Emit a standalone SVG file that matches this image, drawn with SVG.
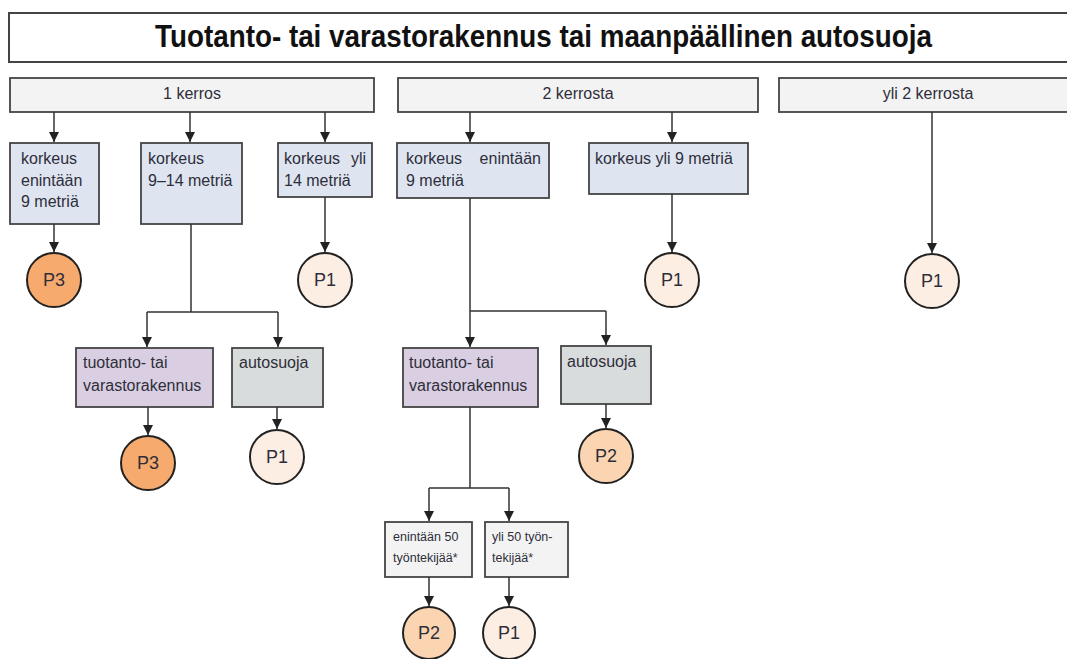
<svg xmlns="http://www.w3.org/2000/svg" width="1067" height="659" viewBox="0 0 1067 659">
<style>
text{font-family:"Liberation Sans",Arial,sans-serif;fill:#2e2e3a}
.t{font-size:16px}
.s{font-size:12.5px}
.c{font-size:18px;text-anchor:middle}
.m{text-anchor:middle}
.box{stroke:#444;stroke-width:1.8}
.lv1{fill:#f3f3f3}
.lv2{fill:#dee5f1}
.pur{fill:#dacee2}
.gry{fill:#d9dcdc}
.sm{fill:#f3f3f3}
.circ{stroke:#222;stroke-width:2}
.p3{fill:#f7aa6e}
.p2{fill:#fbd5b1}
.p1{fill:#fdeee3}
.ln{fill:none;stroke:#333;stroke-width:1.5}
</style>
<defs>
<marker id="a" markerUnits="userSpaceOnUse" markerWidth="10" markerHeight="12" refX="10" refY="5" orient="auto" viewBox="0 0 10 10">
<path d="M0,0 L10,5 L0,10 Z" fill="#222"/>
</marker>
</defs>

<g id="title">
<rect x="9" y="13" width="1070" height="49" fill="#fff" stroke="#444" stroke-width="2"/>
<text x="155" y="47" font-size="32" font-weight="bold" textLength="777" lengthAdjust="spacingAndGlyphs" style="fill:#111">Tuotanto- tai varastorakennus tai maanpäällinen autosuoja</text>
</g>

<g id="kerros1"><rect class="box lv1" x="10" y="78" width="364" height="34"/><text class="t m" x="192" y="99">1 kerros</text></g>
<g id="kerrosta2"><rect class="box lv1" x="398" y="78" width="360" height="34"/><text class="t m" x="578" y="99">2 kerrosta</text></g>
<g id="yli2"><rect class="box lv1" x="779" y="78" width="300" height="34"/><text class="t m" x="928" y="99">yli 2 kerrosta</text></g>

<g id="k1a"><rect class="box lv2" x="10" y="143" width="89" height="81"/><text class="t" x="21" y="164">korkeus<tspan x="21" y="186">enintään</tspan><tspan x="21" y="207">9 metriä</tspan></text></g>
<g id="k1b"><rect class="box lv2" x="141" y="143" width="101" height="81"/><text class="t" x="148" y="164">korkeus<tspan x="148" y="186">9–14 metriä</tspan></text></g>
<g id="k1c"><rect class="box lv2" x="278" y="143" width="94" height="54"/><text class="t" x="284" y="164">korkeus<tspan x="366" text-anchor="end">yli</tspan><tspan x="284" y="186">14 metriä</tspan></text></g>
<g id="k2a"><rect class="box lv2" x="397" y="143" width="152" height="55"/><text class="t" x="406" y="164">korkeus<tspan x="541" text-anchor="end">enintään</tspan><tspan x="406" y="186">9 metriä</tspan></text></g>
<g id="k2b"><rect class="box lv2" x="589" y="143" width="159" height="51"/><text class="t" x="595" y="164">korkeus yli 9 metriä</text></g>

<g id="pur1"><rect class="box pur" x="76" y="348" width="137" height="59"/><text class="t" x="83" y="368">tuotanto- tai<tspan x="83" y="391">varastorakennus</tspan></text></g>
<g id="gry1"><rect class="box gry" x="232" y="348" width="91" height="59"/><text class="t" x="239" y="368">autosuoja</text></g>
<g id="pur2"><rect class="box pur" x="403" y="348" width="135" height="59"/><text class="t" x="409" y="368">tuotanto- tai<tspan x="409" y="391">varastorakennus</tspan></text></g>
<g id="gry2"><rect class="box gry" x="561" y="346" width="90" height="58"/><text class="t" x="567" y="367">autosuoja</text></g>

<g id="sm1"><rect class="box sm" x="385" y="522" width="87" height="55"/><text class="s" x="393" y="541">enintään 50<tspan x="393" y="562">työntekijää*</tspan></text></g>
<g id="sm2"><rect class="box sm" x="485" y="522" width="83" height="55"/><text class="s" x="492" y="541">yli 50 työn-<tspan x="492" y="562">tekijää*</tspan></text></g>

<g id="c1"><circle class="circ p3" cx="54" cy="280" r="27"/><text class="c" x="54" y="286">P3</text></g>
<g id="c2"><circle class="circ p1" cx="325" cy="280" r="27"/><text class="c" x="325" y="286">P1</text></g>
<g id="c3"><circle class="circ p1" cx="672" cy="280" r="27"/><text class="c" x="672" y="286">P1</text></g>
<g id="c4"><circle class="circ p1" cx="932" cy="281" r="27"/><text class="c" x="932" y="287">P1</text></g>
<g id="c5"><circle class="circ p3" cx="148" cy="463" r="27"/><text class="c" x="148" y="469">P3</text></g>
<g id="c6"><circle class="circ p1" cx="277" cy="457" r="27"/><text class="c" x="277" y="463">P1</text></g>
<g id="c7"><circle class="circ p2" cx="606" cy="456" r="27"/><text class="c" x="606" y="462">P2</text></g>
<g id="c8"><circle class="circ p2" cx="429" cy="633" r="26"/><text class="c" x="429" y="639">P2</text></g>
<g id="c9"><circle class="circ p1" cx="509" cy="633" r="26"/><text class="c" x="509" y="639">P1</text></g>

<g id="connectors">
<path class="ln" marker-end="url(#a)" d="M54,112 V142"/>
<path class="ln" marker-end="url(#a)" d="M190,112 V142"/>
<path class="ln" marker-end="url(#a)" d="M325,112 V142"/>
<path class="ln" marker-end="url(#a)" d="M54,224 V252"/>
<path class="ln" marker-end="url(#a)" d="M325,197 V252"/>
<path class="ln" d="M191,224 V312 M147,312 H278"/>
<path class="ln" marker-end="url(#a)" d="M147,312 V347"/>
<path class="ln" marker-end="url(#a)" d="M278,312 V347"/>
<path class="ln" marker-end="url(#a)" d="M148,407 V435"/>
<path class="ln" marker-end="url(#a)" d="M277,407 V429"/>
<path class="ln" marker-end="url(#a)" d="M470,112 V142"/>
<path class="ln" marker-end="url(#a)" d="M672,112 V142"/>
<path class="ln" marker-end="url(#a)" d="M672,194 V252"/>
<path class="ln" d="M470,198 V311 M470,311 H606"/>
<path class="ln" marker-end="url(#a)" d="M470,311 V347"/>
<path class="ln" marker-end="url(#a)" d="M606,311 V345"/>
<path class="ln" marker-end="url(#a)" d="M606,404 V428"/>
<path class="ln" d="M470,407 V488 M429,488 H509"/>
<path class="ln" marker-end="url(#a)" d="M429,488 V521"/>
<path class="ln" marker-end="url(#a)" d="M509,488 V521"/>
<path class="ln" marker-end="url(#a)" d="M429,577 V606"/>
<path class="ln" marker-end="url(#a)" d="M509,577 V606"/>
<path class="ln" marker-end="url(#a)" d="M932,112 V253"/>
</g>
</svg>
